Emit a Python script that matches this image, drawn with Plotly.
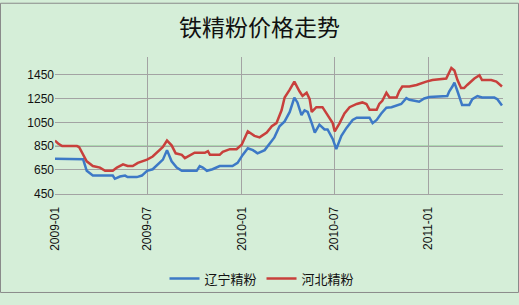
import plotly.graph_objects as go

# ---- data ----
liaoning_dates = [
    "2009-01-01", "2009-02-25", "2009-03-04", "2009-03-16", "2009-04-24", "2009-04-28",
    "2009-05-08", "2009-05-18", "2009-05-23", "2009-06-10", "2009-06-20", "2009-06-30",
    "2009-07-11", "2009-07-21", "2009-07-31", "2009-08-08", "2009-08-17", "2009-08-27",
    "2009-09-06", "2009-10-05", "2009-10-11", "2009-10-17", "2009-10-25", "2009-11-05",
    "2009-11-19", "2009-12-14", "2009-12-24", "2010-01-03", "2010-01-13", "2010-01-23",
    "2010-02-01", "2010-02-15", "2010-02-25", "2010-03-06", "2010-03-16", "2010-03-26",
    "2010-04-05", "2010-04-14", "2010-04-20", "2010-04-28", "2010-05-04", "2010-05-10",
    "2010-05-18", "2010-05-24", "2010-06-02", "2010-06-12", "2010-06-18", "2010-06-28",
    "2010-07-05", "2010-07-15", "2010-07-25", "2010-08-06", "2010-08-14", "2010-09-08",
    "2010-09-14", "2010-09-22", "2010-10-01", "2010-10-11", "2010-10-21", "2010-10-31",
    "2010-11-09", "2010-11-19", "2010-11-25", "2010-12-05", "2010-12-14", "2010-12-24",
    "2011-01-03", "2011-02-07", "2011-02-11", "2011-02-17", "2011-02-21", "2011-02-27",
    "2011-03-06", "2011-03-08", "2011-03-22", "2011-03-28", "2011-04-07", "2011-04-16",
    "2011-05-10", "2011-05-16", "2011-05-25",
]
liaoning_values = [
    745, 740, 643, 603, 603, 576,
    595, 603, 590, 590, 603, 643,
    656, 697, 737, 817, 723, 670,
    643, 643, 683, 670, 643, 656,
    683, 683, 710, 777, 833, 817,
    790, 817, 871, 924, 1018, 1058,
    1138, 1259, 1218, 1112, 1152, 1138,
    1044, 964, 1031, 991, 991, 911,
    825, 937, 1004, 1071, 1090, 1090,
    1044, 1071, 1125, 1173, 1178, 1192,
    1205, 1254, 1240, 1232, 1224, 1251,
    1264, 1272, 1312, 1352, 1384, 1312,
    1218, 1197, 1197, 1245, 1272, 1259,
    1259, 1245, 1192,
]

hebei_dates = [
    "2009-01-01", "2009-01-07", "2009-01-15", "2009-02-13", "2009-02-17", "2009-02-23",
    "2009-03-04", "2009-03-16", "2009-03-30", "2009-04-09", "2009-04-24", "2009-05-02",
    "2009-05-14", "2009-05-23", "2009-06-02", "2009-06-12", "2009-06-30", "2009-07-11",
    "2009-07-21", "2009-07-31", "2009-08-08", "2009-08-17", "2009-08-25", "2009-09-06",
    "2009-09-12", "2009-09-22", "2009-10-01", "2009-10-21", "2009-10-27", "2009-10-31",
    "2009-11-19", "2009-11-25", "2009-12-09", "2009-12-22", "2010-01-01", "2010-01-13",
    "2010-01-26", "2010-02-05", "2010-02-19", "2010-03-01", "2010-03-10", "2010-03-20",
    "2010-03-26", "2010-04-05", "2010-04-14", "2010-04-24", "2010-04-30", "2010-05-08",
    "2010-05-14", "2010-05-18", "2010-05-27", "2010-06-08", "2010-06-18", "2010-06-28",
    "2010-07-02", "2010-07-11", "2010-07-21", "2010-07-31", "2010-08-14", "2010-08-25",
    "2010-09-02", "2010-09-08", "2010-09-22", "2010-09-27", "2010-10-03", "2010-10-11",
    "2010-10-17", "2010-10-31", "2010-11-05", "2010-11-11", "2010-11-25", "2010-12-09",
    "2010-12-28", "2011-01-09", "2011-02-05", "2011-02-11", "2011-02-15", "2011-02-21",
    "2011-02-27", "2011-03-06", "2011-03-12", "2011-03-18", "2011-04-01", "2011-04-11",
    "2011-04-16", "2011-05-04", "2011-05-14", "2011-05-25",
]
hebei_values = [
    897, 873, 851, 851, 843, 793,
    723, 683, 670, 643, 643, 670,
    697, 683, 683, 710, 737, 763,
    803, 843, 897, 857, 790, 777,
    750, 777, 795, 795, 809, 777,
    777, 803, 825, 825, 863, 975,
    937, 924, 964, 1018, 1044, 1152,
    1259, 1325, 1393, 1312, 1272, 1299,
    1245, 1138, 1178, 1178, 1112, 1044,
    975, 1040, 1125, 1178, 1205, 1218,
    1205, 1157, 1157, 1205, 1232, 1299,
    1259, 1259, 1312, 1352, 1352, 1365,
    1393, 1406, 1419, 1473, 1508, 1486,
    1406, 1339, 1339, 1365, 1419, 1446,
    1406, 1406, 1393, 1352,
]

series_names = ["辽宁精粉", "河北精粉"]
title_text = "铁精粉价格走势"
y_ticks = [450, 650, 850, 1050, 1250, 1450]
x_ticks = ["2009-01-01", "2009-07-01", "2010-01-01", "2010-07-01", "2011-01-01"]
x_tick_labels = ["2009-01", "2009-07", "2010-01", "2010-07", "2011-01"]
highlight_level = 850

# ---- styling ----
W, H = 519, 305
ML, MR, MT, MB = 55, 16, 57, 104
BG = "#d5eed8"
GRID = "#a3a3a3"
CJK = "Liberation Sans, Noto Sans CJK SC, sans-serif"

fig = go.Figure()
fig.add_trace(go.Scatter(x=liaoning_dates, y=liaoning_values, name=series_names[0],
                         mode="lines", line=dict(color="#3d79c6", width=2.5)))
fig.add_trace(go.Scatter(x=hebei_dates, y=hebei_values, name=series_names[1],
                         mode="lines", line=dict(color="#c8403c", width=2.5)))

pw = W - ML - MR
ph = H - MT - MB
# highlighted green gridline
fig.add_shape(type="line", xref="paper", yref="y", x0=0, x1=1,
              y0=highlight_level, y1=highlight_level,
              line=dict(color="#86c48a", width=1.3), layer="below")
# outer border of the chart
fig.add_shape(type="rect", xref="paper", yref="paper",
              x0=(0.5 - ML) / pw, x1=(W - 0.5 - ML) / pw,
              y0=-(H - 0.5 - MT - ph) / ph, y1=(MT + ph - 0.5) / ph,
              line=dict(color="#8a8a8a", width=1), layer="below")

fig.update_layout(
    width=W, height=H,
    margin=dict(l=ML, r=MR, t=MT, b=MB),
    paper_bgcolor=BG, plot_bgcolor=BG,
    font=dict(family=CJK, size=12, color="#111111"),
    title=dict(text=title_text, x=0.5, xanchor="center", y=1 - 28 / H, yanchor="middle",
               font=dict(family="Noto Sans CJK SC, sans-serif", size=23, color="#111111")),
    showlegend=True,
    legend=dict(orientation="h", x=(262 - ML) / pw, xanchor="center",
                y=-(290 - MT - ph) / ph, yanchor="middle",
                font=dict(family="Noto Sans CJK SC, sans-serif", size=13, color="#111111"),
                bgcolor="rgba(0,0,0,0)", itemwidth=30, tracegroupgap=0),
    xaxis=dict(type="date", range=["2009-01-01", "2011-05-27"],
               tickvals=x_ticks, ticktext=x_tick_labels, tickangle=-90,
               ticklabelstandoff=7,
               showgrid=True, gridcolor=GRID, gridwidth=1,
               showline=True, linecolor=GRID, linewidth=1,
               ticks="", zeroline=False,
               tickfont=dict(family="Liberation Sans, sans-serif", size=12, color="#111111")),
    yaxis=dict(range=[448, 1600], tickvals=y_ticks,
               showgrid=True, gridcolor=GRID, gridwidth=1,
               showline=False, zeroline=False, ticks="",
               tickfont=dict(family="Liberation Sans, sans-serif", size=12, color="#111111")),
)

fig.write_html("out.html")
